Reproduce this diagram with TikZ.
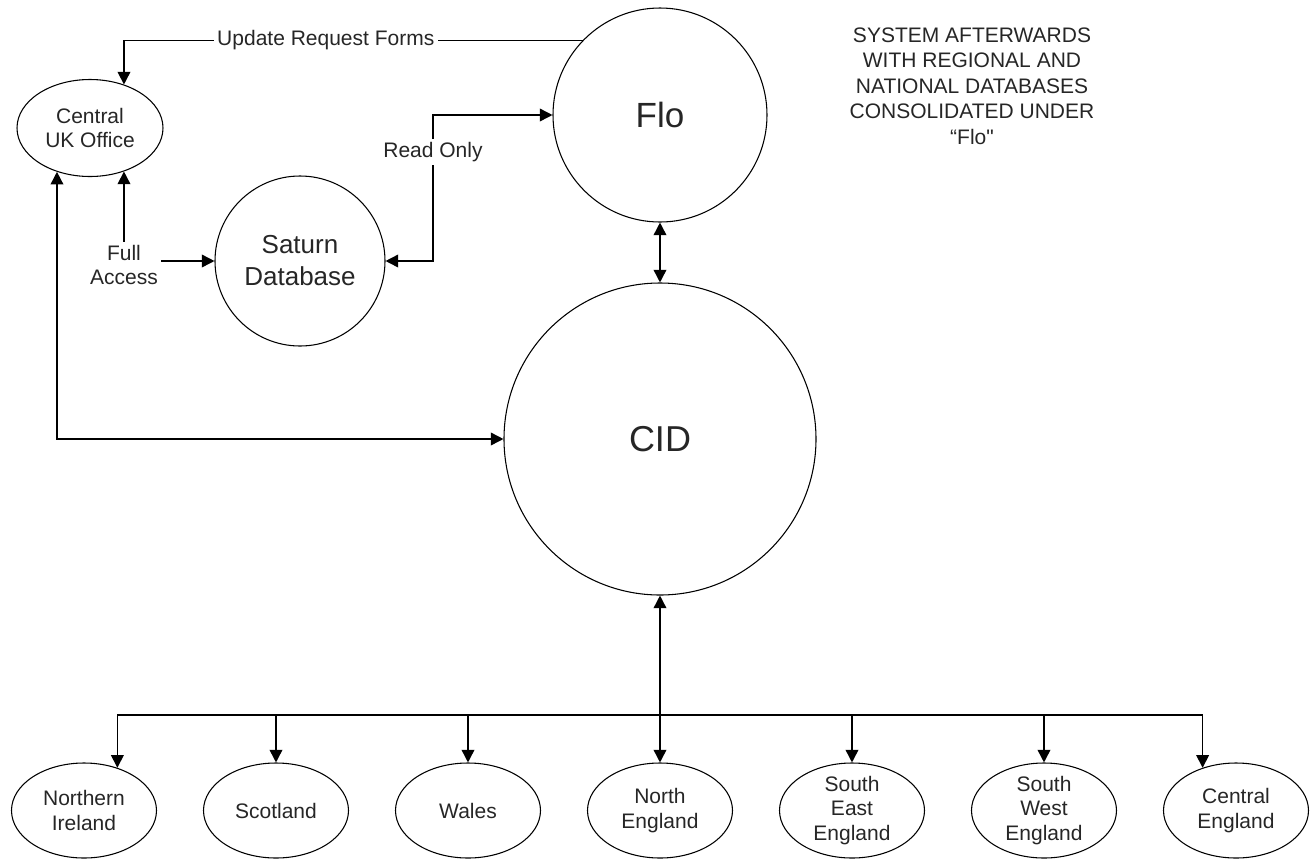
\documentclass[tikz,border=0pt]{standalone}
\usepackage{fontspec}
\setmainfont{Liberation Sans}
\newfontfamily\plainfont{Liberation Sans}
\usetikzlibrary{shapes.geometric,arrows.meta}
\begin{document}
\begin{tikzpicture}[x=0.75pt,y=-0.75pt,
  every node/.style={text=black!85},
  bigcirc/.style={circle, draw=black, line width=0.8pt, inner sep=0pt},
  ell/.style={ellipse, draw=black, line width=0.8pt, inner sep=0pt},
  regell/.style={ell, minimum width=108.75pt, minimum height=71.25pt},
  smalltxt/.style={font=\fontsize{15.75pt}{18.6pt}\selectfont, align=center, inner sep=0pt},
  lbl/.style={smalltxt, fill=white, inner sep=2.5pt},
  conn/.style={line width=1.2pt, draw=black},
  tip/.tip={Triangle[length=9.5pt,width=9.5pt]},
  arr/.style={conn, -tip},
  biarr/.style={conn, tip-tip}]
\useasboundingbox (0,0) rectangle (1311,861);

% main circles
\node[bigcirc, minimum size=160.5pt, font=\fontsize{26.25pt}{30pt}\selectfont] (Flo) at (660,115) {Flo};
\node[bigcirc, minimum size=234pt, font=\fontsize{27pt}{30pt}\selectfont] (CID) at (660,439) {CID};
\node[bigcirc, minimum size=127.5pt, align=center, font=\fontsize{19.5pt}{24pt}\selectfont] (Sat) at (300,261) {Saturn\\Database};

% Central UK Office
\node[ell, minimum width=109.5pt, minimum height=72.75pt] (UK) at (90,128) {};
\node[smalltxt] (UKt) at (UK) {Central\\UK Office};

% regional ellipses
\foreach \nm/\xx/\txt in {NI/84/{Northern\\Ireland}, SC/276/{Scotland}, WA/468/{Wales}, NE/660/{North\\England}, SE/852/{South\\East\\England}, SW/1044/{South\\West\\England}, CE/1236/{Central\\England}}{
  \node[regell] (\nm) at (\xx,810.5) {};
  \node[smalltxt] (\nm t) at (\nm) {\txt};
}

% note text
\node[align=center, font=\fontsize{15.75pt}{19.2pt}\selectfont] (note) at (972,86)
  {SYSTEM AFTERWARDS\\WITH REGIONAL AND\\NATIONAL DATABASES\\CONSOLIDATED UNDER\\{\plainfont “Flo"}};

% connectors
\draw[arr] (Flo.136) -| (UK.52) node[lbl, pos=0.28] (lblUpd) {Update Request Forms};
\draw[biarr] (UK.-52) |- (Sat.west) node[lbl, pos=0.5, yshift=-3pt] (lblFull) {Full\\Access};
\coordinate (ro) at (433,150);
\draw[biarr] (Sat.east) -- (Sat.east -| ro) -- (Flo.west -| ro) -- (Flo.west);
\node[lbl] (lblRead) at (433,152) {Read Only};
\draw[biarr] (UK.233) |- (CID.west);
\draw[biarr] (Flo.south) -- (CID.north);
\draw[biarr] (CID.south) -- (NE.north);

% bus to regions
\coordinate (bus) at (660,715);
\draw[conn] (bus -| NI.52) -- (bus -| CE.128);
\draw[arr] (bus -| NI.52) -- (NI.52);
\draw[arr] (bus -| SC.north) -- (SC.north);
\draw[arr] (bus -| WA.north) -- (WA.north);
\draw[arr] (bus -| SE.north) -- (SE.north);
\draw[arr] (bus -| SW.north) -- (SW.north);
\draw[arr] (bus -| CE.128) -- (CE.128);
\end{tikzpicture}
\end{document}
